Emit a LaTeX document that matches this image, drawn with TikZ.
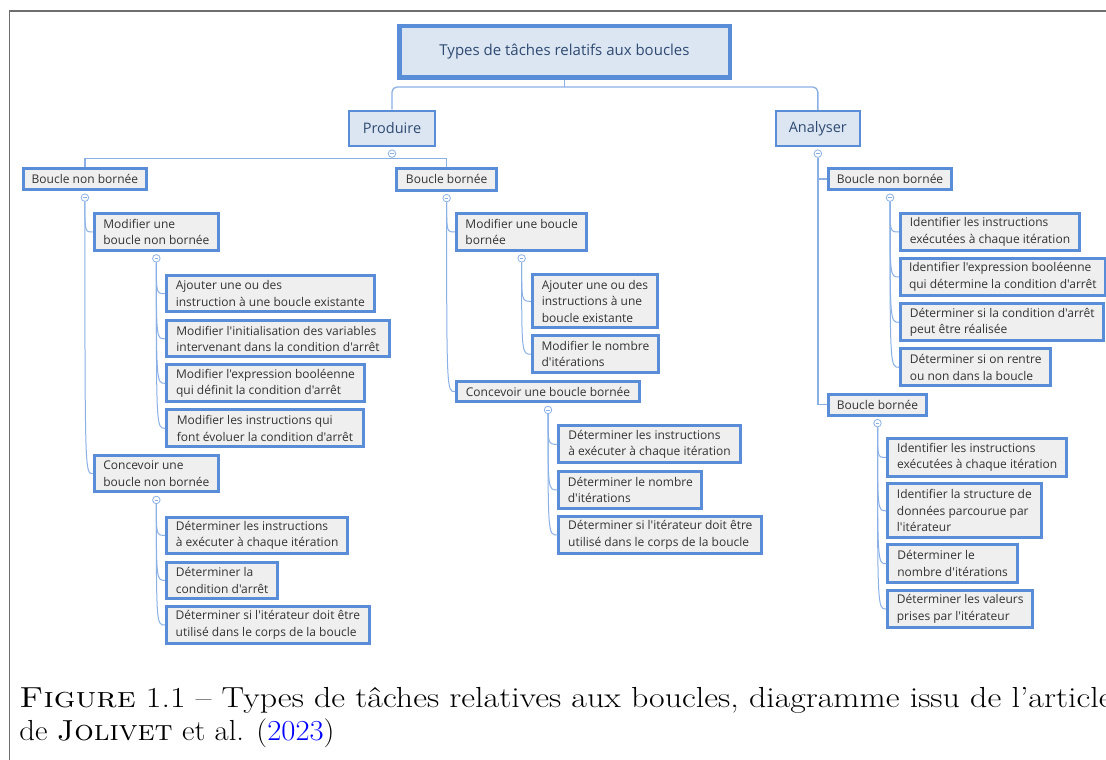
\documentclass[tikz,border=0pt]{standalone}
\usepackage{fontspec}
\usepackage{graphicx}
\newfontfamily\boxfont{Open Sans}
\definecolor{bordblue}{HTML}{5A8DD8}
\definecolor{lineblue}{HTML}{8AB0E6}
\definecolor{titlefill}{HTML}{DCE6F2}
\definecolor{leaffill}{HTML}{EFEFEF}
\definecolor{leaftext}{HTML}{333333}
\definecolor{titletext}{HTML}{2E4A72}
\definecolor{framegray}{HTML}{6E6E6E}
\definecolor{citeblue}{HTML}{0000FF}
\tikzset{
  leaf/.style={draw=bordblue, line width=3pt, fill=leaffill, text=leaftext,
    font=\boxfont\fontsize{12}{16.5}\selectfont, align=left, inner xsep=8.5pt,
    inner ysep=0pt, anchor=north west},
  branchbox/.style={draw=bordblue, line width=2pt, fill=titlefill, text=titletext,
    font=\boxfont\fontsize{14.5}{18}\selectfont, inner sep=0pt, anchor=north west},
  rootbox/.style={draw=bordblue, line width=4.5pt, fill=titlefill, text=titletext,
    font=\boxfont\fontsize{15}{18}\selectfont, inner sep=0pt, anchor=north west},
  toggle/.style={circle, draw=lineblue, fill=white, line width=0.8pt,
    minimum size=7.5pt, inner sep=0pt, anchor=north,
    path picture={\draw[lineblue, line width=0.7pt]
      ([xshift=-1.8pt]path picture bounding box.center) --
      ([xshift=1.8pt]path picture bounding box.center);}},
  conn/.style={draw=lineblue, line width=1.3pt},
  thinconn/.style={draw=lineblue, line width=1pt},
  capfont/.style={font=\fontsize{29}{30}\selectfont, inner sep=0pt, anchor=base west},
}
\newcommand\leafbox[6]{%
  \pgfmathsetmacro\bw{#4-#2-3}\pgfmathsetmacro\bh{#5-#3-3}%
  \node[leaf, minimum width=\bw pt, minimum height=\bh pt] (#1) at (#2,#3) {#6};}
\newcommand\tog[1]{\node[toggle] (#1c) at ([yshift=-2.5pt]#1.south) {};}
\newcommand\hook[2]{\draw[thinconn] (#1c.south) .. controls (#1c.south |- #2.west) .. (#2.west);}
\begin{document}
\begin{tikzpicture}[x=1pt, y=-1pt]
\useasboundingbox (0,0) rectangle (1106,760);
\clip (0,0) rectangle (1106,760);
\fill[white] (0,0) rectangle (1106,760);
\draw[framegray, line width=1.5pt] (9.3,800) -- (9.3,11) -- (1130,11);

% root and branches
\node[rootbox, minimum width=330.5pt, minimum height=51.5pt] (T) at (397,24) {Types de tâches relatifs aux boucles};
\node[branchbox, minimum width=86pt, minimum height=35.5pt] (P) at (348,109.5) {Produire};
\node[branchbox, minimum width=84.3pt, minimum height=35pt] (A) at (774.7,110) {Analyser};
\coordinate (tbar) at ([yshift=-7pt]T.south);
\draw[conn] (T.south) -- (tbar);
\draw[conn, rounded corners=5pt] (P.north) |- (tbar) -| (A.north);
\tog{P}
\tog{A}

% Produire
\leafbox{PNB}{21.7}{167.3}{146.7}{191}{Boucle non bornée}
\leafbox{PB}{395}{166.5}{498.3}{191.5}{Boucle bornée}
\coordinate (pbar) at ([yshift=-1pt]Pc.south);
\draw[conn] (Pc.south) -- (pbar);
\draw[conn] (PNB.north) |- (pbar) -| (PB.north);
\tog{PNB}
\tog{PB}

\leafbox{M1}{92.7}{212.3}{220}{251.7}{Modifier une\\boucle non bornée}
\leafbox{C1}{92.7}{454}{220}{493.3}{Concevoir une\\boucle non bornée}
\hook{PNB}{M1}
\hook{PNB}{C1}
\tog{M1}
\tog{C1}
\leafbox{a1}{165}{274}{375.7}{313.3}{Ajouter une ou des\\instruction à une boucle existante}
\leafbox{a2}{165}{319.3}{391}{358.3}{Modifier l'initialisation des variables\\intervenant dans la condition d'arrêt}
\leafbox{a3}{165}{363.3}{366}{403.3}{Modifier l'expression booléenne\\qui définit la condition d'arrêt}
\leafbox{a4}{165}{408.3}{365}{448.3}{Modifier les instructions qui\\font évoluer la condition d'arrêt}
\hook{M1}{a1}\hook{M1}{a2}\hook{M1}{a3}\hook{M1}{a4}
\leafbox{b1}{165}{515.7}{349.3}{555}{Déterminer les instructions\\à exécuter à chaque itération}
\leafbox{b2}{165}{560.7}{279.3}{600}{Déterminer la\\condition d'arrêt}
\leafbox{b3}{165}{605}{370.7}{645}{Déterminer si l'itérateur doit être\\utilisé dans le corps de la boucle}
\hook{C1}{b1}\hook{C1}{b2}\hook{C1}{b3}

\leafbox{M2}{455}{212.3}{588.3}{251.7}{Modifier une boucle\\bornée}
\leafbox{C2}{455}{380}{641}{403.3}{Concevoir une boucle bornée}
\hook{PB}{M2}
\hook{PB}{C2}
\tog{M2}
\tog{C2}
\leafbox{c1}{531}{273.3}{659}{329.3}{Ajouter une ou des\\instructions à une\\boucle existante}
\leafbox{c2}{531}{334}{660}{374.3}{Modifier le nombre\\d'itérations}
\hook{M2}{c1}\hook{M2}{c2}
\leafbox{d1}{557.3}{424.3}{741.7}{464.3}{Déterminer les instructions\\à exécuter à chaque itération}
\leafbox{d2}{557.3}{470}{703.3}{510}{Déterminer le nombre\\d'itérations}
\leafbox{d3}{557.3}{515}{763.3}{555}{Déterminer si l'itérateur doit être\\utilisé dans le corps de la boucle}
\hook{C2}{d1}\hook{C2}{d2}\hook{C2}{d3}

% Analyser
\leafbox{ANB}{826.7}{166.7}{953.3}{191}{Boucle non bornée}
\leafbox{AB}{826.7}{392.5}{928.3}{416.5}{Boucle bornée}
\draw[conn] (Ac.south) |- (ANB.west);
\draw[conn] (Ac.south) |- (AB.west);
\tog{ANB}
\tog{AB}
\leafbox{e1}{899}{212.3}{1081}{251.7}{Identifier les instructions\\exécutées à chaque itération}
\leafbox{e2}{899}{257.3}{1106}{296.7}{Identifier l'expression booléenne\\qui détermine la condition d'arrêt}
\leafbox{e3}{899}{302.3}{1105.3}{342.3}{Déterminer si la condition d'arrêt\\peut être réalisée}
\leafbox{e4}{899}{347.3}{1052.3}{387.3}{Déterminer si on rentre\\ou non dans la boucle}
\hook{ANB}{e1}\hook{ANB}{e2}\hook{ANB}{e3}\hook{ANB}{e4}
\leafbox{f1}{886}{437.3}{1068.3}{477.7}{Identifier les instructions\\exécutées à chaque itération}
\leafbox{f2}{886}{482.3}{1042.7}{539.3}{Identifier la structure de\\données parcourue par\\l'itérateur}
\leafbox{f3}{886}{543.3}{1019.3}{584}{Déterminer le\\nombre d'itérations}
\leafbox{f4}{886}{588.7}{1034.3}{629.3}{Déterminer les valeurs\\prises par l'itérateur}
\hook{AB}{f1}\hook{AB}{f2}\hook{AB}{f3}\hook{AB}{f4}

% caption
\node[capfont] (cap1) at (19.3,707.5) {\scalebox{1.169}[1]{\textsc{Figure} 1.1 – Types de tâches relatives aux boucles, diagramme issu de l’article}};
\node[capfont] (cap2) at (19.3,740) {\scalebox{1.058}[1]{de \textsc{Jolivet} et al. (\textcolor{citeblue}{2023})}};
\end{tikzpicture}
\end{document}
